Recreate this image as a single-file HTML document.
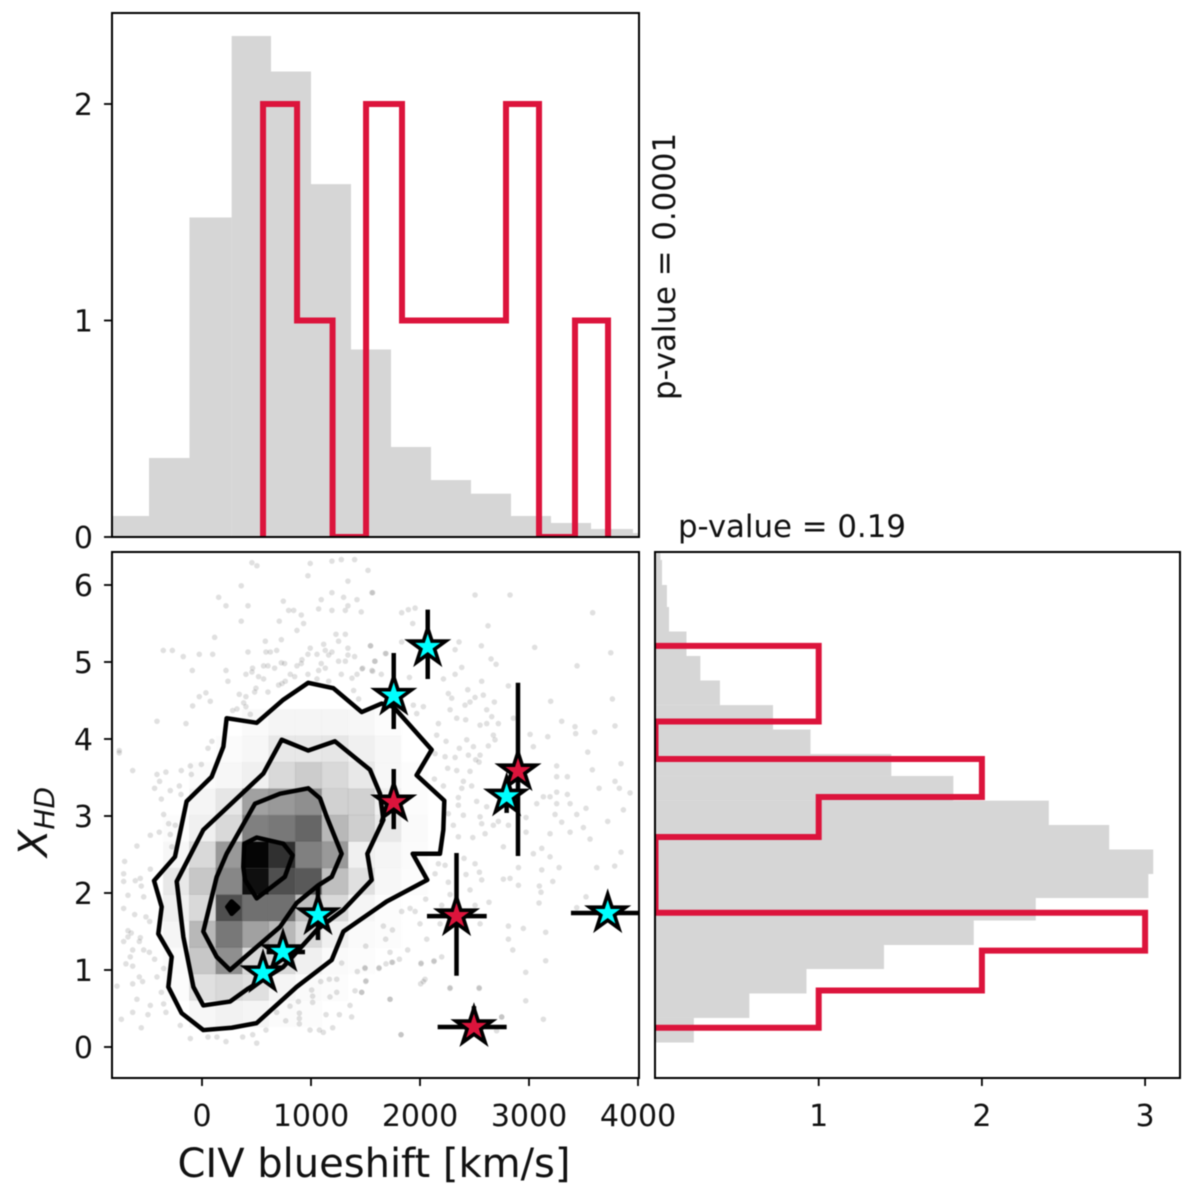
<!DOCTYPE html>
<html lang="en">
<head>
<meta charset="utf-8">
<title>CIV blueshift vs X_HD corner plot</title>
<style>
html,body{margin:0;padding:0;background:#fff;width:1200px;height:1192px;overflow:hidden}
svg{display:block;filter:blur(.6px)}
text{font-family:"DejaVu Sans","Liberation Sans",sans-serif;fill:#111}
</style>
</head>
<body>
<svg id="chart" xmlns="http://www.w3.org/2000/svg" width="1200" height="1192" viewBox="0 0 1200 1192">
<defs>
<clipPath id="clip-top"><rect x="112" y="13" width="527" height="524"/></clipPath>
<clipPath id="clip-main"><rect x="112" y="552" width="527" height="526"/></clipPath>
<clipPath id="clip-right"><rect x="655" y="552" width="525" height="526"/></clipPath>
</defs>
<g id="top-marks" clip-path="url(#clip-top)"></g>
<g id="main-marks" clip-path="url(#clip-main)"></g>
<g id="right-marks" clip-path="url(#clip-right)"></g>
<rect x="112" y="13" width="527" height="524" fill="none" stroke="#000" stroke-width="2"/>
<rect x="112" y="552" width="527" height="526" fill="none" stroke="#000" stroke-width="2"/>
<rect x="655" y="552" width="525" height="526" fill="none" stroke="#000" stroke-width="2"/>
<g id="ticks"></g>
<text x="374" y="1177" font-size="40" text-anchor="middle">CIV blueshift [km/s]</text>
<text transform="translate(47,822) rotate(-90)" font-size="40" text-anchor="middle"><tspan font-style="italic">X</tspan><tspan font-style="italic" font-size="28" dy="7">HD</tspan></text>
<text transform="translate(675,400) rotate(-90)" font-size="30.8">p-value = 0.0001</text>
<text x="678" y="537" font-size="30.8">p-value = 0.19</text>
</svg>
<script>
// ---- chart data ----
const xTicks = [0, 1000, 2000, 3000, 4000];
const yTicks = [0, 1, 2, 3, 4, 5, 6];
const topCountTicks = [0, 1, 2];
const rightCountTicks = [1, 2, 3];

const parentBlueshiftEdges = [-854,-486,-115,272,633,1000,1367,1734,2101,2468,2835,3202,3569,3954,4321];
const parentBlueshiftValues = [.097,.365,1.476,2.314,2.15,1.63,.866,.416,.263,.2,.097,.065,.037,.018];
const sampleBlueshiftEdges = [560,872,1198,1505,1835,2151,2468,2789,3092,3422,3725];
const sampleBlueshiftValues = [2,1,0,2,1,1,1,2,0,1];

const parentXhdEdges = [.058,.377,.695,1.013,1.325,1.643,1.935,2.247,2.565,2.883,3.2,3.52,3.805,4.123,4.44,4.76,5.078,5.396,5.714,6.0,6.325,6.415];
const parentXhdValues = [.235,.575,.925,1.4,1.95,2.33,3.02,3.05,2.78,2.41,1.825,1.445,.95,.72,.395,.275,.19,.083,.07,.04,.03];
const sampleXhdEdges = [.25,.734,1.252,1.744,2.234,2.727,3.247,3.74,4.228,4.72,5.21];
const sampleXhdValues = [1,2,3,0,0,1,2,0,1,1];

const densityXEdges = [-355,-116,127,370,613,856,1099,1342,1585,1828,2071];
const densityYEdges = [4.386,4.042,3.698,3.354,3.01,2.666,2.322,1.978,1.634,1.29,.946,.602,.258];
const densityRows = [
 [0,0,0,.02,.04,.04,.04,.03,.01,0],
 [0,0,.015,.03,.09,.09,.10,.06,.03,0],
 [0,.015,.03,.06,.15,.2,.15,.09,.03,.01],
 [0,.04,.10,.37,.40,.44,.18,.18,.06,.01],
 [.01,.06,.15,.5,.53,.6,.28,.19,.09,.02],
 [.03,.15,.40,.98,.81,.5,.40,.06,.04,.015],
 [.09,.22,.47,.94,.69,.65,.25,.12,.03,.01],
 [.06,.15,.69,.56,.56,.25,.15,.04,.01,0],
 [.04,.28,.53,.37,.28,.15,.06,.02,.01,0],
 [.015,.22,.44,.15,.15,.06,.02,.01,0,0],
 [.01,.12,.15,.12,.04,.02,.01,0,0,0],
 [0,.03,.05,.04,.015,.01,0,0,0,0]
];

const contourOuter = [[975,4.73],[1205,4.66],[1465,4.35],[1648,4.46],[1755,4.42],[2107,3.86],[1969,3.53],[2223,3.2],[2214,2.82],[2183,2.51],[1933,2.51],[2067,2.17],[1694,1.89],[1297,1.5],[1190,1.13],[868,.78],[501,.31],[272,.25],[12,.22],[-187,.44],[-309,.78],[-278,1.17],[-401,1.47],[-370,1.82],[-440,2.16],[-248,2.47],[-141,3.19],[89,3.51],[196,3.9],[226,4.27],[502,4.21],[746,4.51]];
const contourMiddle = [[731,3.99],[975,3.85],[1220,3.97],[1541,3.6],[1633,3.29],[1664,2.95],[1517,2.51],[1557,2.17],[1297,1.78],[1052,1.52],[746,1.04],[425,.76],[257,.59],[12,.54],[-79,.78],[-171,1.43],[-232,2.15],[12,2.82],[562,3.55]];
const contourInner = [[975,3.36],[1083,3.23],[1144,2.99],[1281,2.51],[1190,2.21],[1067,2.10],[868,1.87],[716,1.56],[502,1.3],[257,1.0],[135,1.17],[12,1.5],[135,2.21],[226,2.51],[486,3.16],[716,3.29]];
const contourCore = [[502,2.72],[746,2.64],[832,2.49],[760,2.21],[502,1.93],[395,2.17],[379,2.34],[388,2.64]];
const contourSpot = [[232,1.82],[272,1.89],[333,1.81],[272,1.73]];

const redStarX = [2899,1759,2335,2495];
const redStarY = [3.584,3.18,1.70,.26];
const redErrYHigh = [4.73,3.61,2.52,.53];
const redErrYLow = [2.48,2.83,.926,.14];
const redErrXLow = [null,null,2064,2162];
const redErrXHigh = [null,null,2612,2795];

const cyanStarX = [2071,1759,2795,1064,743,560,3722];
const cyanStarY = [5.195,4.564,3.256,1.714,1.234,.961,1.74];
const cyanErrYHigh = [5.68,5.117,3.45,2.1,null,null,null];
const cyanErrYLow = [4.78,4.13,3.04,1.39,null,null,null];
const cyanErrXLow = [null,null,null,null,593,null,3385];
const cyanErrXHigh = [null,null,null,null,945,null,4200];

const scatterUpperLeft = [[458,6.29],[504,6.25],[993,6.28],[1192,6.31],[1278,6.33],[1400,6.33],[1523,6.19],[972,6.12],[1339,6.05],[360,5.99],[1192,5.90],[1299,5.84],[1559,5.90],[153,5.84],[1094,5.81],[1422,5.81],[746,5.79],[220,5.73],[422,5.73],[1339,5.73],[1070,5.69],[1192,5.67],[795,5.67],[841,5.67],[1315,5.67],[1461,5.65],[911,5.61],[360,5.53],[709,5.53],[932,5.50],[871,5.41],[1229,5.36],[1315,5.36],[116,5.32],[728,5.29],[581,5.27],[1253,5.27],[1116,5.23],[1544,5.21],[-355,5.15],[-272,5.15],[993,5.18],[1339,5.18],[587,5.13],[627,5.13],[685,5.15],[422,5.13],[1131,5.15],[1192,5.13],[1682,5.11],[-172,5.07],[-25,5.10],[98,5.10],[972,5.10],[1055,5.10],[1339,5.09],[1400,5.07],[917,5.03],[1162,5.09],[728,4.99],[758,4.98],[1253,5.01],[1315,5.01],[1584,5.01],[911,4.98],[565,4.95],[605,4.95],[666,4.92],[871,4.95],[1094,4.98],[1131,4.92],[464,4.92],[220,4.89],[-89,4.89],[458,4.87],[1070,4.89],[1468,4.91],[1559,4.89],[403,4.84],[972,4.84],[1278,4.84],[1422,4.84],[1376,4.79],[1645,4.84],[519,4.81],[565,4.78],[810,4.84],[850,4.81],[238,4.75],[764,4.75],[703,4.70],[734,4.72],[495,4.66],[483,4.61],[605,4.61],[36,4.60],[-25,4.55],[76,4.49],[342,4.58],[403,4.55],[382,4.47],[-86,4.43],[403,4.42],[321,4.39],[281,4.37],[443,4.32],[-413,4.23],[-147,4.20],[91,3.97],[55,3.88],[-759,3.85],[1391,4.63],[1437,4.52],[1162,4.75],[1055,4.78]];
const scatterRight = [[1566,5.90],[2505,5.87],[2826,5.87],[3584,5.64],[1832,5.64],[1893,5.68],[1955,5.70],[1933,5.50],[2624,5.47],[1548,5.21],[1832,5.26],[2358,5.26],[2563,5.21],[3052,5.19],[3750,5.12],[2322,5.16],[1689,5.11],[2652,5.04],[2698,4.97],[3441,4.95],[1588,5.01],[2383,4.93],[1474,4.92],[1566,4.88],[1903,4.80],[2215,4.78],[2322,4.84],[2566,4.75],[2811,4.69],[3199,4.49],[3765,4.52],[2682,4.48],[2438,4.64],[2260,4.59],[2291,4.53],[2505,4.54],[2581,4.57],[2413,4.44],[2459,4.48],[2031,4.42],[1939,4.44],[1970,4.33],[2276,4.38],[3300,4.23],[3422,4.16],[2612,4.38],[2658,4.29],[3789,4.17],[3603,4.09],[3428,4.07],[3010,4.06],[3172,4.03],[2169,4.20],[2337,4.27],[2419,4.25],[2551,4.18],[2612,4.20],[2719,4.20],[2857,4.27],[2153,4.05],[2239,3.97],[2673,4.05],[2688,3.99],[2429,3.99],[2490,3.90],[2627,3.91],[3040,3.90],[3539,3.83],[2361,3.88],[2230,3.77],[2322,3.76],[2444,3.79],[2551,3.79],[2138,3.81],[2511,3.73],[2542,3.70],[3254,3.65],[3844,3.68],[2254,3.62],[2337,3.59],[2459,3.58],[3581,3.60],[3254,3.51],[3352,3.51],[3789,3.45],[2132,3.48],[2215,3.39],[2398,3.45],[2383,3.36],[2474,3.39],[3643,3.36],[3829,3.36],[3927,3.30],[3254,3.31],[3132,3.25],[3193,3.25],[3352,3.28],[3071,3.16],[3254,3.16],[3377,3.16],[2352,3.24],[2352,3.14],[2520,3.19],[2612,3.12],[3523,3.10],[3866,3.08],[3239,3.02],[3438,3.02],[2398,3.01],[2260,3.03],[2551,2.99],[2566,2.90],[2719,2.93],[2673,2.88],[3300,2.92],[3722,2.93],[2306,2.88],[2811,2.88],[2973,2.98],[3499,2.85],[3377,2.79],[3193,2.77],[2973,2.79],[2597,2.77],[2352,2.73],[2484,2.72],[3560,2.70],[2765,2.60],[3117,2.58],[3040,2.51],[3193,2.47],[3844,2.53],[2169,2.38],[2230,2.36],[2404,2.45],[2505,2.38],[2903,2.33],[3276,2.33],[3621,2.33],[3786,2.35],[3117,2.30],[2138,2.25],[2260,2.14],[2422,2.24],[2545,2.27],[2765,2.18],[2826,2.19],[2903,2.10],[3218,2.15],[3095,2.09],[2566,2.17],[3110,2.01],[2459,2.04],[2276,1.98],[2052,1.92],[2199,1.84],[2633,1.88],[3092,1.87],[3523,1.95],[3438,1.81],[2505,1.84],[1909,1.80],[1955,1.76],[1832,1.76],[1664,1.57],[1747,1.52],[2000,1.60],[2184,1.60],[2551,1.60],[2811,1.57],[3153,1.49],[2948,1.54],[1685,1.40],[2062,1.40],[2811,1.40],[1502,1.31],[2851,1.26],[1887,1.26],[1725,1.23],[1741,1.10],[1811,1.14],[1624,1.03],[1496,1.02],[2010,1.09],[2129,1.12],[2199,1.17],[3153,1.12],[2970,.97],[1505,.86],[2031,.85],[1465,.71],[2276,.77],[2542,.77],[1725,.62],[2970,.60],[3132,.36],[2750,.39],[1826,.16]];
const scatterLeft = [[-759,3.82],[-636,3.59],[-413,3.54],[-331,3.57],[-190,3.59],[-107,3.65],[-6,3.67],[-98,3.54],[-389,3.45],[-435,3.36],[-291,3.33],[-208,3.39],[-193,3.28],[-373,3.22],[-352,3.02],[-306,2.90],[-245,2.88],[-392,2.79],[-474,2.75],[-291,2.76],[-597,2.61],[-276,2.60],[-710,2.41],[-719,2.25],[-719,2.15],[-566,2.19],[-612,2.16],[-474,2.31],[-557,2.09],[-679,1.97],[-535,1.95],[-719,1.80],[-618,1.72],[-514,1.69],[-480,1.63],[-679,1.51],[-649,1.48],[-679,1.43],[-566,1.42],[-719,1.37],[-575,1.37],[-636,1.26],[-535,1.26],[-483,1.23],[-435,1.14],[-658,1.17],[-698,1.08],[-636,1.05],[-352,1.02],[-413,.91],[-575,.91],[-545,.85],[-636,.82],[-780,.79],[-373,.71],[-597,.62],[-352,.56],[-474,.54],[-636,.45],[-496,.42],[-331,.45],[-740,.36],[-199,.28],[-557,.25],[-107,.11],[55,.13],[137,.13],[220,.07]];
const scatterBottom = [[1281,1.09],[1495,1.03],[1425,.98],[1624,1.02],[1688,1.08],[1749,1.10],[2009,1.08],[2128,1.11],[1089,.85],[1168,.88],[1236,.88],[1502,.85],[2046,.88],[2006,.82],[1006,.74],[1236,.71],[1404,.73],[1465,.71],[1174,.65],[2275,.76],[2544,.76],[1725,.62],[1015,.66],[1015,.58],[884,.59],[807,.53],[1358,.54],[893,.44],[893,.37],[893,.30],[685,.45],[1138,.42],[1260,.42],[1373,.39],[768,.34],[587,.22],[991,.22],[1077,.22],[1113,.19],[1199,.25],[465,.16],[373,.13],[502,.05],[1826,.16],[2749,.39],[2703,.21]];

// ---- axis functions ----
const SVG_NS = 'http://www.w3.org/2000/svg';
const xAxis = v => 202 + v * 0.109;
const yAxis = v => 1047 - v * 77;
const topCount = v => 537 - v * 216.5;
const rightCount = v => 655.5 + v * 163.2;

function make(tag, parent, attrs) {
  const el = document.createElementNS(SVG_NS, tag);
  for (const k in attrs) el.setAttribute(k, attrs[k]);
  parent.appendChild(el);
  return el;
}
const topMarks = document.getElementById('top-marks');
const mainMarks = document.getElementById('main-marks');
const rightMarks = document.getElementById('right-marks');
const ticks = document.getElementById('ticks');
const CRIMSON = '#dc143c';
const HIST_GRAY = '#d6d6d6';

// ---- top histogram ----
parentBlueshiftValues.forEach((v, i) => {
  const x0 = xAxis(parentBlueshiftEdges[i]);
  const x1 = xAxis(parentBlueshiftEdges[i + 1]);
  const el = make('rect', topMarks, {x: x0, y: topCount(v), width: x1 - x0, height: topCount(0) - topCount(v), fill: HIST_GRAY});
  
  
});
{
  let d = 'M' + xAxis(sampleBlueshiftEdges[0]) + ' ' + topCount(0);
  sampleBlueshiftValues.forEach((v, i) => {
    d += 'L' + xAxis(sampleBlueshiftEdges[i]) + ' ' + topCount(v);
    d += 'L' + xAxis(sampleBlueshiftEdges[i + 1]) + ' ' + topCount(v);
  });
  d += 'L' + xAxis(sampleBlueshiftEdges[sampleBlueshiftEdges.length - 1]) + ' ' + topCount(0);
  const el = make('path', topMarks, {d: d, fill: 'none', stroke: CRIMSON, 'stroke-width': 6, 'stroke-linejoin': 'miter'});
  
  
}

// ---- right histogram ----
parentXhdValues.forEach((v, i) => {
  const y0 = yAxis(parentXhdEdges[i + 1]);
  const y1 = yAxis(parentXhdEdges[i]);
  const el = make('rect', rightMarks, {x: rightCount(0), y: y0, width: rightCount(v) - rightCount(0), height: y1 - y0, fill: HIST_GRAY});
  
  
});
{
  let d = 'M' + rightCount(0) + ' ' + yAxis(sampleXhdEdges[0]);
  sampleXhdValues.forEach((v, i) => {
    d += 'L' + rightCount(v) + ' ' + yAxis(sampleXhdEdges[i]);
    d += 'L' + rightCount(v) + ' ' + yAxis(sampleXhdEdges[i + 1]);
  });
  d += 'L' + rightCount(0) + ' ' + yAxis(sampleXhdEdges[sampleXhdEdges.length - 1]);
  const el = make('path', rightMarks, {d: d, fill: 'none', stroke: CRIMSON, 'stroke-width': 6, 'stroke-linejoin': 'miter'});
  
  
}

// ---- density cells ----
densityRows.forEach((row, r) => {
  row.forEach((d, c) => {
    if (d <= 0) return;
    const x0 = xAxis(densityXEdges[c]);
    const x1 = xAxis(densityXEdges[c + 1]);
    const y0 = yAxis(densityYEdges[r]);
    const y1 = yAxis(densityYEdges[r + 1]);
    const g = Math.round(255 * (1 - d));
    const edge = Math.min(.09, d * .3);
    const el = make('rect', mainMarks, {x: x0, y: y0, width: x1 - x0, height: y1 - y0, fill: 'rgb(' + g + ',' + g + ',' + g + ')', stroke: 'rgba(0,0,0,' + edge + ')', 'stroke-width': 1});
    
    
  });
});

// ---- scatter ----
[scatterUpperLeft, scatterRight, scatterLeft, scatterBottom].forEach(list => {
  list.forEach(p => {
    const el = make('circle', mainMarks, {cx: xAxis(p[0]), cy: yAxis(p[1]), r: 2.8, fill: '#000', 'fill-opacity': .12});
    
    
  });
});

// ---- contours ----
[contourOuter, contourMiddle, contourInner, contourCore, contourSpot].forEach(poly => {
  const pts = poly.map(p => xAxis(p[0]) + ',' + yAxis(p[1])).join(' ');
  const el = make('polygon', mainMarks, {points: pts, fill: poly === contourSpot ? '#000' : 'none', stroke: '#000', 'stroke-width': 4.5, 'stroke-linejoin': 'round'});
  
  
});

// ---- stars with error bars ----
function starPath(cx, cy, R) {
  let d = '';
  for (let i = 0; i < 10; i++) {
    const rad = i % 2 ? R * 0.381966 : R;
    const a = -Math.PI / 2 + i * Math.PI / 5;
    d += (i ? 'L' : 'M') + (cx + rad * Math.cos(a)).toFixed(2) + ' ' + (cy + rad * Math.sin(a)).toFixed(2);
  }
  return d + 'Z';
}
function drawStars(xs, ys, yHigh, yLow, xLow, xHigh, color) {
  xs.forEach((x, i) => {
    if (yHigh[i] !== null) {
      const eb = make('line', mainMarks, {x1: xAxis(x), x2: xAxis(x), y1: yAxis(yHigh[i]), y2: yAxis(yLow[i]), stroke: '#000', 'stroke-width': 4.5});
      
      
    }
    if (xLow[i] !== null) {
      const eb = make('line', mainMarks, {x1: xAxis(xLow[i]), x2: xAxis(xHigh[i]), y1: yAxis(ys[i]), y2: yAxis(ys[i]), stroke: '#000', 'stroke-width': 4.5});
      
      
    }
    const s = make('path', mainMarks, {d: starPath(xAxis(x), yAxis(ys[i]), 19), fill: color, stroke: '#000', 'stroke-width': 3.6, 'stroke-linejoin': 'miter', 'stroke-miterlimit': 10});
    
    
  });
}
drawStars(redStarX, redStarY, redErrYHigh, redErrYLow, redErrXLow, redErrXHigh, CRIMSON);
drawStars(cyanStarX, cyanStarY, cyanErrYHigh, cyanErrYLow, cyanErrXLow, cyanErrXHigh, '#00ffff');

// ---- ticks ----
function tick(x1, y1, x2, y2) {
  const el = make('line', ticks, {x1: x1, y1: y1, x2: x2, y2: y2, stroke: '#000', 'stroke-width': 1.8});
  
  
}
function label(x, y, s, anchor) {
  const el = make('text', ticks, {x: x, y: y, 'font-size': 30, 'text-anchor': anchor});
  el.textContent = s;
  
  
}
xTicks.forEach(v => {
  tick(xAxis(v), 1078, xAxis(v), 1086);
  label(xAxis(v), 1126, String(v), 'middle');
});
yTicks.forEach(v => {
  tick(104, yAxis(v), 112, yAxis(v));
  label(93, yAxis(v) + 11, String(v), 'end');
});
topCountTicks.forEach(v => {
  tick(104, topCount(v), 112, topCount(v));
  label(93, topCount(v) + 11, String(v), 'end');
});
rightCountTicks.forEach(v => {
  tick(rightCount(v), 1078, rightCount(v), 1086);
  label(rightCount(v), 1126, String(v), 'middle');
});
</script>
</body>
</html>
